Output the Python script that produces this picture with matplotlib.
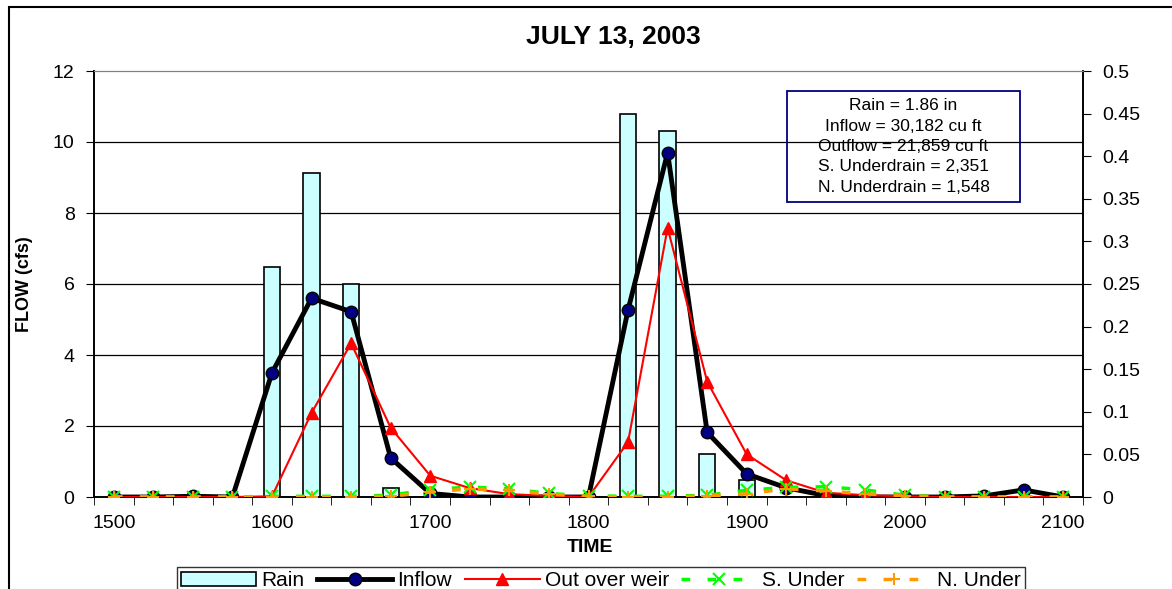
import matplotlib
matplotlib.use("Agg")
import matplotlib.pyplot as plt
from matplotlib.patches import Rectangle

plt.rcParams["font.family"] = ["Liberation Sans", "DejaVu Sans"]

# Time of day (hhmm-style categories, 25 per hundred)
times = [1500, 1525, 1550, 1575, 1600, 1625, 1650, 1675, 1700, 1725, 1750, 1775,
         1800, 1825, 1850, 1875, 1900, 1925, 1950, 1975, 2000, 2025, 2050, 2075, 2100]
# rain depth per interval (in), right axis
rain = [0, 0, 0, 0, 0.27, 0.38, 0.25, 0.01, 0, 0, 0, 0,
        0, 0.45, 0.43, 0.05, 0.02, 0, 0, 0, 0, 0, 0, 0, 0]
# flows (cfs), left axis
inflow = [0, 0, 0.02, 0, 3.5, 5.6, 5.22, 1.1, 0.1, 0, 0, 0,
          0, 5.27, 9.7, 1.82, 0.65, 0.26, 0.04, 0, 0, 0, 0.03, 0.2, 0]
outflow = [0, 0, 0, 0, 0.02, 2.37, 4.33, 1.95, 0.6, 0.25, 0.08, 0.03,
           0, 1.55, 7.58, 3.25, 1.2, 0.47, 0.12, 0.05, 0.02, 0, 0, 0, 0]
s_under = [0, 0, 0, 0, 0.02, 0.02, 0.02, 0.05, 0.21, 0.28, 0.23, 0.1,
           0.03, 0.02, 0.02, 0.05, 0.19, 0.27, 0.29, 0.2, 0.05, 0, 0, 0, 0]
n_under = [0, 0, 0, 0, 0, 0, 0, 0.02, 0.14, 0.23, 0.19, 0.08,
           0.02, 0, 0, 0.03, 0.09, 0.23, 0.17, 0.09, 0.03, 0, 0, 0, 0]

flow_ticks = [0, 2, 4, 6, 8, 10, 12]
rain_ticks = [0, 0.05, 0.1, 0.15, 0.2, 0.25, 0.3, 0.35, 0.4, 0.45, 0.5]
rain_labels = ["0", "0.05", "0.1", "0.15", "0.2", "0.25", "0.3", "0.35", "0.4", "0.45", "0.5"]
time_labels = [1500, 1600, 1700, 1800, 1900, 2000, 2100]

summary = ("Rain = 1.86 in\nInflow = 30,182 cu ft\nOutflow = 21,859 cu ft\n"
           "S. Underdrain = 2,351\nN. Underdrain = 1,548")

fig = plt.figure(figsize=(11.72, 5.89), dpi=100)
ax = fig.add_axes([94 / 1172, 1 - 497 / 589, (1083 - 94) / 1172, (497 - 71) / 589])
ax2 = ax.twinx()
ax.set_zorder(ax2.get_zorder() + 1)
ax.patch.set_visible(False)

# rain bars on the secondary axis (behind the flow lines)
ymax_flow, ymax_rain = 12, 0.5
for g in flow_ticks[1:-1]:
    ax2.axhline(g * ymax_rain / ymax_flow, color="black", lw=0.9, zorder=0)
bars = ax2.bar(times, rain, width=10.3, color="#CCFFFF", edgecolor="black",
               linewidth=1.2, zorder=2, label="Rain")
ax2.set_ylim(0, ymax_rain)
ax2.set_yticks(rain_ticks)
ax2.set_yticklabels(rain_labels)

l1, = ax.plot(times, inflow, color="black", lw=3.5, marker="o", ms=9,
              mfc="#000080", mec="black", mew=1, label="Inflow", zorder=3)
l2, = ax.plot(times, outflow, color="red", lw=1.5, marker="^", ms=9,
              mfc="red", mec="red", label="Out over weir", zorder=4)
l3, = ax.plot(times, s_under, color="#00FF00", lw=2.5, dashes=(2.5, 5), marker="x",
              ms=8, mew=1.5, mec="#00FF00", label="S. Under", zorder=5)
l4, = ax.plot(times, n_under, color="#FF9900", lw=2.5, dashes=(2.5, 5), marker="+",
              ms=9, mew=1.5, mec="#FF9900", label="N. Under", zorder=6)

ax.set_xlim(1487.5, 2112.5)
ax.set_ylim(0, ymax_flow)
ax.set_yticks(flow_ticks)
ax.set_xticks(time_labels)
ax.set_xticks([t - 12.5 for t in times] + [2112.5], minor=True)
ax.tick_params(axis="x", which="major", length=0, pad=13, labelsize=14)
ax.tick_params(axis="x", which="minor", length=6, direction="out", color="black")
ax.tick_params(axis="y", length=6, direction="out", pad=8, labelsize=14)
ax2.tick_params(axis="y", length=6, direction="out", pad=8, labelsize=14)
for a in (ax, ax2):
    a.spines["top"].set_color("#808080")
    a.spines["left"].set_linewidth(1.2)
    a.spines["right"].set_linewidth(1.2)
    a.spines["bottom"].set_linewidth(1.2)

ax.set_ylabel("FLOW (cfs)", fontsize=13, fontweight="bold", labelpad=14)
fig.text(0.503, 1 - 548 / 589, "TIME", ha="center", va="center",
         fontsize=14, fontweight="bold")
fig.text(0.523, 1 - 37 / 589, "JULY 13, 2003", ha="center", va="center",
         fontsize=19, fontweight="bold")

# summary box
fig.patches.append(Rectangle((787 / 1172, 1 - 202 / 589), (1020 - 787) / 1172,
                             (202 - 91) / 589, transform=fig.transFigure,
                             fill=False, edgecolor="#000080", lw=1.3, zorder=10))
fig.text(903.5 / 1172, 1 - 146.5 / 589, summary, ha="center", va="center",
         fontsize=12.5, linespacing=1.45, zorder=11)

# outer chart border
fig.patches.append(Rectangle((9 / 1172, -0.1), 1.2, 1.088, transform=fig.transFigure,
                             fill=False, edgecolor="black", lw=1.5))

fig.legend([bars, l1, l2, l3, l4], ["Rain", "Inflow", "Out over weir", "S. Under", "N. Under"],
           loc="upper center", bbox_to_anchor=(601 / 1172, 1 - 567 / 589), ncol=5,
           fontsize=15, frameon=True, fancybox=False, edgecolor="black",
           handlelength=3.6, handletextpad=0.25, columnspacing=0.6, borderpad=0.2,
           borderaxespad=0)

fig.savefig("out.png", dpi=100)
